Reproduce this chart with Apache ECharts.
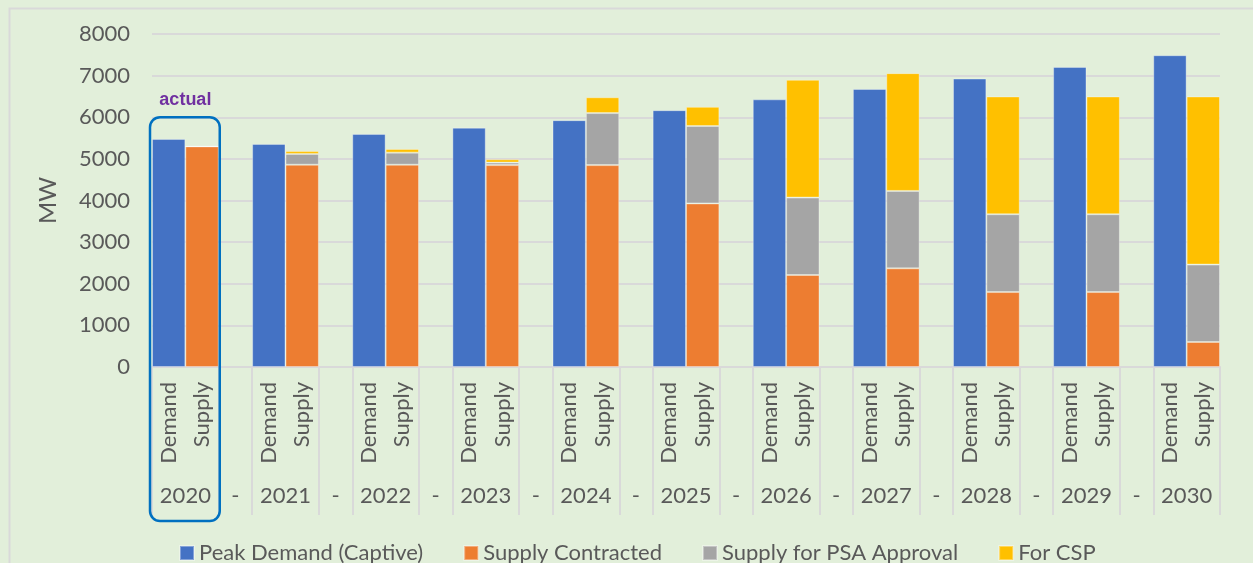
<!doctype html>
<html lang="en">

<head>
	<meta charset="UTF-8">
	<title>Peak Demand vs Supply</title>
	<script src="https://cdn.jsdelivr.net/npm/echarts@6/dist/echarts.min.js"></script>
	<style>
		html, body { margin: 0; padding: 0; background: #e2efda; }
		#main { width: 1253px; height: 563px; }
	</style>
</head>

<body>
	<div id="main"></div>

	<script>
		// data (MW)
		var years = ['2020', '2021', '2022', '2023', '2024', '2025', '2026', '2027', '2028', '2029', '2030'];
		var peakDemand = [5480, 5360, 5600, 5750, 5930, 6170, 6430, 6680, 6930, 7210, 7490];
		var supplyContracted = [5300, 4860, 4860, 4850, 4850, 3930, 2210, 2370, 1800, 1800, 600];
		var supplyPSA = [0, 260, 290, 60, 1250, 1860, 1860, 1860, 1870, 1870, 1860];
		var forCSP = [0, 70, 90, 80, 380, 460, 2830, 2830, 2830, 2830, 4040];
		var subLabels = ['Demand', 'Supply'];
		var separator = '-';
		var seriesNames = ['Peak Demand (Captive)', 'Supply Contracted', 'Supply for PSA Approval', 'For CSP'];

		// slots: Demand, Supply, (gap) per year
		var slots = [], dDemand = [], dContract = [], dPSA = [], dCSP = [];
		years.forEach(function (y, i) {
			slots.push(subLabels[0], subLabels[1]);
			dDemand.push(peakDemand[i], null);
			dContract.push(null, supplyContracted[i]);
			dPSA.push(null, supplyPSA[i]);
			dCSP.push(null, forCSP[i]);
			if (i < years.length - 1) {
				slots.push('');
				dDemand.push(null); dContract.push(null); dPSA.push(null); dCSP.push(null);
			}
		});

		// outer axis on half-slot positions: year at group centre, '-' at gap centre
		var outer = [];
		for (var j = 0; j <= slots.length * 2; j++) {
			if (j % 6 === 2) outer.push(years[(j - 2) / 6]);
			else if (j % 6 === 5) outer.push(separator);
			else outer.push('');
		}

		var txt = '#595959';
		var font = 'Lato, "Liberation Sans", sans-serif';

		var chart = echarts.init(document.getElementById('main'));

		function bar(name, data, color) {
			return {
				name: name,
				type: 'bar',
				stack: 'all',
				data: data,
				barWidth: '100%',
				itemStyle: { color: color, borderColor: 'rgba(255,255,255,0.35)', borderWidth: 1 }
			};
		}

		option = {
			backgroundColor: '#e2efda',
			animation: false,
			textStyle: { fontFamily: font },
			grid: { left: 152, right: 33, top: 34, bottom: 196 },
			legend: {
				left: 174,
				top: 537,
				icon: 'rect',
				itemWidth: 14,
				itemHeight: 14,
				itemGap: 40,
				textStyle: { color: txt, fontSize: 22, fontFamily: font },
				data: seriesNames
			},
			xAxis: [
				{
					type: 'category',
					data: slots,
					axisLine: { lineStyle: { color: '#d9d9d9', width: 2 } },
					axisTick: { show: false },
					axisLabel: { interval: 0, rotate: 90, margin: 15, color: txt, fontSize: 22, fontFamily: font }
				},
				{
					type: 'category',
					data: outer,
					boundaryGap: false,
					position: 'bottom',
					axisLine: { show: false },
					axisTick: {
						length: 148,
						interval: function (idx) { return idx % 6 === 0 || idx % 6 === 4; },
						lineStyle: { color: '#d9d9d9', width: 2 }
					},
					axisLabel: { interval: 0, margin: 118, color: txt, fontSize: 22, fontFamily: font }
				}
			],
			yAxis: {
				type: 'value',
				min: 0,
				max: 8000,
				interval: 1000,
				name: 'MW',
				nameLocation: 'middle',
				nameRotate: 90,
				nameGap: 92,
				nameTextStyle: { color: txt, fontSize: 24, fontFamily: font },
				axisLabel: {
					color: txt, fontSize: 22, margin: 22, fontFamily: font,
					formatter: function (v) { return String(v); }
				},
				splitLine: { lineStyle: { color: '#d9d9d9', width: 2 } }
			},
			series: [
				bar(seriesNames[0], dDemand, '#4472c4'),
				bar(seriesNames[1], dContract, '#ed7d31'),
				bar(seriesNames[2], dPSA, '#a5a5a5'),
				bar(seriesNames[3], dCSP, '#ffc000')
			]
		};
		chart.setOption(option);

		// "actual" box round 2020
		var xl = chart.convertToPixel({ xAxisIndex: 1 }, 0);
		var xr = chart.convertToPixel({ xAxisIndex: 1 }, 4);
		var yTop = chart.convertToPixel({ yAxisIndex: 0 }, 6000);
		var yZero = chart.convertToPixel({ yAxisIndex: 0 }, 0);
		chart.setOption({
			graphic: [
				{
					type: 'rect',
					left: 7, top: 6,
					shape: { width: 1300, height: 600 },
					style: { fill: 'none', stroke: '#d9d9d9', lineWidth: 2 },
					silent: true
				},
				{
					type: 'rect',
					shape: { x: xl - 2, y: yTop, width: xr - xl + 3, height: yZero + 154 - yTop, r: 10 },
					style: { fill: 'none', stroke: '#0070c0', lineWidth: 2.5 },
					z: 10
				},
				{
					type: 'text',
					x: (xl + xr) / 2,
					y: yTop - 17,
					style: {
						text: 'actual',
						fill: '#7030a0',
						font: 'bold 18px "Liberation Sans", Arial, sans-serif',
						align: 'center',
						verticalAlign: 'middle'
					},
					z: 10
				}
			]
		});
	</script>
</body>

</html>
